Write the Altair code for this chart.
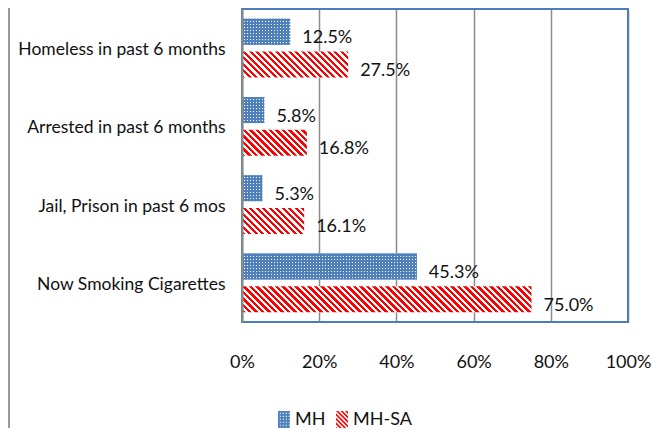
import altair as alt
import pandas as pd

# ---------------- data ----------------
categories = ["Homeless in past 6 months", "Arrested in past 6 months",
              "Jail, Prison in past 6 mos", "Now Smoking Cigarettes"]
series = ["MH", "MH-SA"]
mh_values = [12.5, 5.8, 5.3, 45.3]
mhsa_values = [27.5, 16.8, 16.1, 75.0]
x_ticks = [0, 20, 40, 60, 80, 100]

rows = []
for c, a, b in zip(categories, mh_values, mhsa_values):
    rows.append({"category": c, "series": series[0], "value": a, "label": f"{a:.1f}%"})
    rows.append({"category": c, "series": series[1], "value": b, "label": f"{b:.1f}%"})
df = pd.DataFrame(rows)

# ---------------- layout / style ----------------
W, H = 386, 313
PAD = {"left": 234, "top": 1, "right": 30, "bottom": 106}
BLUE = "#4f81bd"
BORDER = "#4a7ebb"
RED = "#ff0000"
GRID = "#8c8c8c"
FONT = "Lato"
TXT = "#111111"
Y_PI, Y_PO, OFF_PI = 0.25, 0.125, 0.2

step = H / (len(categories) - Y_PI + 2 * Y_PO)
band = step * (1 - Y_PI)
bar_h = band / (2 - OFF_PI) * (1 - OFF_PI)


def stripes(length, period, on, c_on, c_off):
    stops = []
    pos = 0.0
    while pos < length:
        a = pos / length
        b = min((pos + on) / length, 1.0)
        c = min((pos + period) / length, 1.0)
        stops += [{"offset": a, "color": c_on}, {"offset": b, "color": c_on},
                  {"offset": b, "color": c_off}, {"offset": c, "color": c_off}]
        pos += period
    return stops


def diag_gradient(w, h):
    k = (w + h) / (w * w + h * h)
    return {"gradient": "linear", "x1": 0, "y1": 1, "x2": k * w, "y2": 1 - k * h,
            "stops": stripes(w + h, 6.5, 3.25, RED, "#ffffff")}


def vert_gradient(w):
    return {"gradient": "linear", "x1": 0, "y1": 0, "x2": 1, "y2": 0,
            "stops": stripes(w, 3.0, 2.0, BLUE, "transparent")}


horiz_gradient = {"gradient": "linear", "x1": 0, "y1": 0, "x2": 0, "y2": 1,
                  "stops": stripes(bar_h, 3.0, 2.0, BLUE, "transparent")}

# ---------------- encodings ----------------
x_enc = alt.X("value:Q", scale=alt.Scale(domain=[0, 100]),
              axis=alt.Axis(values=x_ticks, labelExpr="datum.value + '%'", title=None,
                            ticks=False, tickSize=0, domain=False, grid=True,
                            gridColor=GRID, gridWidth=1.5, labelFont=FONT,
                            labelFontSize=18, labelColor=TXT, labelPadding=40,
                            labelBaseline="middle", labelFlush=False, labelOverlap=False))
y_enc = alt.Y("category:N", sort=categories,
              scale=alt.Scale(paddingInner=Y_PI, paddingOuter=Y_PO),
              axis=alt.Axis(title=None, ticks=False, tickSize=0, domain=True,
                            domainColor=GRID, domainWidth=2, labelFont=FONT,
                            labelFontSize=17.5, labelColor=TXT, labelPadding=17,
                            labelOffset=2, labelLimit=400, zindex=1))
yo_enc = alt.YOffset("series:N", sort=series,
                     scale=alt.Scale(paddingInner=OFF_PI, paddingOuter=0))

base = alt.Chart(df).encode(x=x_enc, y=y_enc, yOffset=yo_enc)

one = pd.DataFrame({"k": [0]})
outer_line = alt.Chart(one).mark_rule(stroke="#999999", strokeWidth=2).encode(
    x=alt.value(9 - (8 + PAD["left"])), y=alt.value(-1), y2=alt.value(H + PAD["bottom"]))
frame = alt.Chart(one).mark_rect(fillOpacity=0, stroke=BORDER, strokeWidth=2).encode(
    x=alt.value(0), x2=alt.value(W), y=alt.value(0), y2=alt.value(H))

layers = [outer_line, frame]
layers.append(base.transform_filter(alt.datum.series == series[0]).mark_bar(fill="#ffffff"))
for c, v in zip(categories, mh_values):
    w = v / 100 * W
    layers.append(base.transform_filter((alt.datum.series == series[0]) & (alt.datum.category == c))
                  .mark_bar(fill=vert_gradient(w)))
layers.append(base.transform_filter(alt.datum.series == series[0]).mark_bar(fill=horiz_gradient))
for c, v in zip(categories, mhsa_values):
    w = v / 100 * W
    layers.append(base.transform_filter((alt.datum.series == series[1]) & (alt.datum.category == c))
                  .mark_bar(fill=diag_gradient(w, bar_h)))

layers.append(base.mark_text(align="left", baseline="alphabetic", dx=12, dy=11.5,
                             font=FONT, fontSize=18, color=TXT).encode(text="label:N"))


# ---------------- legend symbols ----------------
def fmt(p):
    return f"{p[0]:.3f},{p[1]:.3f}"


XR = 0.667
mh_path = f"M{-XR},-1L{XR},-1L{XR},1L{-XR},1Z"
s = 0.12
gx = [-XR + 0.2 + i * 0.333 for i in range(4)]
gy = [-1 + 0.2 + j * 0.333 for j in range(6)]
for xx in gx:
    for yy in gy:
        mh_path += f"M{fmt((xx, yy))}L{fmt((xx, yy + s))}L{fmt((xx + s, yy + s))}L{fmt((xx + s, yy))}Z"


def clip(poly, xlim, keep_greater):
    out = []
    n = len(poly)
    for i in range(n):
        p, q = poly[i], poly[(i + 1) % n]
        pin = p[0] >= xlim if keep_greater else p[0] <= xlim
        qin = q[0] >= xlim if keep_greater else q[0] <= xlim
        if pin:
            out.append(p)
        if pin != qin:
            t = (xlim - p[0]) / (q[0] - p[0])
            out.append((xlim, p[1] + t * (q[1] - p[1])))
    return out


sa_path = ""
per, th = 0.5, 0.25
cpos = -XR - 1 - per
while cpos < XR + 1:
    poly = [(cpos - 1, -1), (cpos + th - 1, -1), (cpos + th + 1, 1), (cpos + 1, 1)]
    poly = clip(poly, -XR, True)
    if poly:
        poly = clip(poly, XR, False)
    if len(poly) >= 3:
        sa_path += "M" + "L".join(fmt(p) for p in poly) + "Z"
    cpos += per


def legend_layer(name, color, path, lx):
    lg = alt.Legend(orient="none", legendX=lx, legendY=402, direction="horizontal",
                    title=None, symbolType=path, symbolSize=324, symbolStrokeWidth=0,
                    symbolOpacity=1, labelFont=FONT, labelFontSize=18, labelColor=TXT,
                    labelOffset=2, padding=0)
    return alt.Chart(df).transform_filter("false").mark_point(filled=True, opacity=1).encode(
        color=alt.Color("series:N", scale=alt.Scale(domain=[name], range=[color]), legend=lg))


layers.append(legend_layer(series[0], BLUE, mh_path, 33))
layers.append(legend_layer(series[1], RED, sa_path, 91))

chart = alt.layer(*layers).resolve_scale(color="independent").properties(
    width=W, height=H, padding=PAD, autosize=alt.AutoSizeParams(type="none"),
    background="white",
).configure_view(stroke=None)

chart.save("out.html", embed_options={"renderer": "svg", "actions": False})
